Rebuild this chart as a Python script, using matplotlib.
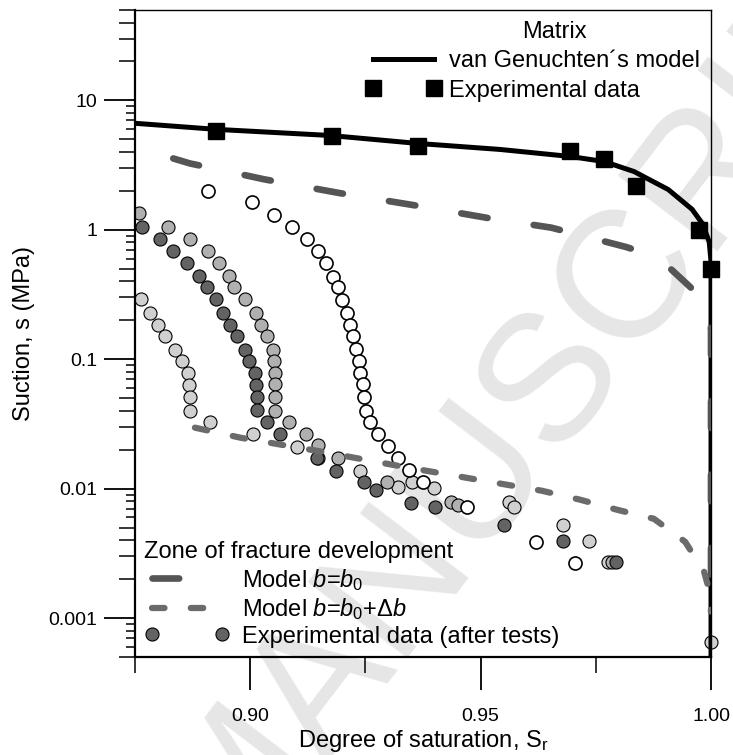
import numpy as np
import matplotlib
matplotlib.use("Agg")
import matplotlib.pyplot as plt
import matplotlib.ticker as ticker

plt.rcParams['font.family'] = ['Liberation Sans', 'DejaVu Sans']
plt.rcParams['mathtext.fontset'] = 'custom'
plt.rcParams['mathtext.rm'] = 'Liberation Sans'
plt.rcParams['mathtext.it'] = 'Liberation Sans:italic'

# -------------------------------
# Data
# -------------------------------

# matrix: van Genuchten fit
vg_sr = [0.8754, 0.8928, 0.9173, 0.9364, 0.9542, 0.9694, 0.9768, 0.9833, 0.9907, 0.9959, 0.9981, 0.9996, 1.0, 1.0]
vg_s = [6.64, 5.97, 5.36, 4.65, 4.18, 3.69, 3.37, 2.82, 2.05, 1.44, 1.12, 0.81, 0.57, 0.0005]

# matrix: experimental points
mat_sr = [0.8926, 0.9178, 0.9364, 0.9694, 0.9768, 0.9837, 0.9974, 1.0]
mat_s = [5.76, 5.27, 4.41, 4.03, 3.50, 2.20, 0.99, 0.50]

# model b = b0
b0_sr = [0.8833, 0.8869, 0.9032, 0.9195, 0.9360, 0.9524, 0.9653, 0.9816, 0.9885, 0.9954, 0.9976, 0.9995, 1.0, 1.0]
b0_s = [3.56, 3.26, 2.45, 1.92, 1.54, 1.22, 1.04, 0.736, 0.614, 0.364, 0.305, 0.233, 0.169, 0.00112]

# model b = b0 + db
db_sr = [0.8880, 0.8980, 0.9145, 0.9308, 0.9471, 0.9633, 0.9716, 0.9796, 0.9876, 0.9944, 0.9985, 0.9996, 1.0]
db_s = [0.0296, 0.0247, 0.0196, 0.0153, 0.0121, 0.00963, 0.00821, 0.00687, 0.00585, 0.00388, 0.00228, 0.00165, 0.00112]

# experimental data after tests (grouped by marker shade)
white_sr = [0.8909, 0.9004, 0.9052, 0.9091, 0.9124, 0.9148, 0.9165, 0.9180, 0.9191, 0.9200,
            0.9211, 0.9217, 0.9222, 0.9230, 0.9235, 0.9239, 0.9244, 0.9246, 0.9252, 0.9261,
            0.9278, 0.9298, 0.9320, 0.9344, 0.9374, 0.9470, 0.9620, 0.9704]
white_s = [1.98, 1.63, 1.31, 1.06, 0.856, 0.692, 0.559, 0.435, 0.364, 0.289,
           0.229, 0.185, 0.152, 0.119, 0.0975, 0.0787, 0.0648, 0.0514, 0.0400, 0.0329,
           0.0266, 0.0215, 0.0173, 0.0140, 0.0113, 0.00725, 0.00388, 0.00267]

dark_sr = [0.8765, 0.8804, 0.8833, 0.8863, 0.8889, 0.8907, 0.8926, 0.8941, 0.8957, 0.8972,
           0.8989, 0.8998, 0.9011, 0.9013, 0.9015, 0.9015, 0.9037, 0.9065, 0.9146, 0.9187,
           0.9246, 0.9272, 0.9348, 0.9402, 0.9550, 0.9678, 0.9794]
dark_s = [1.06, 0.856, 0.692, 0.559, 0.443, 0.364, 0.294, 0.229, 0.185, 0.150,
          0.117, 0.0975, 0.0787, 0.0636, 0.0514, 0.0408, 0.0329, 0.0266, 0.0173, 0.0138,
          0.0113, 0.0098, 0.00778, 0.00725, 0.00526, 0.00395, 0.00272]

mid_sr = [0.8759, 0.8822, 0.8870, 0.8909, 0.8933, 0.8954, 0.8965, 0.8989, 0.9013, 0.9024,
          0.9037, 0.9050, 0.9052, 0.9054, 0.9054, 0.9054, 0.9054, 0.9085, 0.9120, 0.9148,
          0.9191, 0.9296, 0.9435, 0.9452, 0.9785]
mid_s = [1.34, 1.06, 0.856, 0.692, 0.559, 0.443, 0.364, 0.294, 0.229, 0.185,
         0.150, 0.117, 0.0975, 0.0787, 0.0648, 0.0514, 0.0400, 0.0329, 0.0266, 0.0219,
         0.0173, 0.0113, 0.00792, 0.00751, 0.00272]

light_sr = [0.8763, 0.8783, 0.8800, 0.8815, 0.8837, 0.8852, 0.8865, 0.8867, 0.8870, 0.8870,
            0.8913, 0.9007, 0.9102, 0.9148, 0.9239, 0.9320, 0.9352, 0.9398, 0.9561, 0.9572,
            0.9678, 0.9735, 0.9776, 1.0]
light_s = [0.294, 0.229, 0.185, 0.150, 0.117, 0.0975, 0.0787, 0.0636, 0.0514, 0.0400,
           0.0329, 0.0266, 0.0211, 0.0173, 0.0138, 0.0103, 0.0113, 0.0102, 0.00792, 0.00725,
           0.00526, 0.00395, 0.00272, 0.00065]

# -------------------------------
# Figure
# -------------------------------

fig = plt.figure(figsize=(7.33, 7.55), dpi=100)
ax = fig.add_axes([0.1842, 0.1298, 0.7858, 0.8570])

# faint journal watermark behind the data
ax.text(0.755, 0.510, 'MANUSCRIPT', transform=fig.transFigure, rotation=52.7,
        fontsize=130, color='#e6e6e6', ha='center', va='center', zorder=0.5, clip_on=False)

mk = dict(ls='none', marker='o', ms=9.4, mec='k', zorder=2)
ax.plot(light_sr, light_s, mfc='#d0d0d0', mew=0.8, clip_on=False, **mk)
ax.plot(mid_sr, mid_s, mfc='#b0b0b0', mew=0.8, **mk)
dark_pts, = ax.plot(dark_sr, dark_s, mfc='#636363', mew=0.8, **mk)
ax.plot(white_sr, white_s, mfc='white', mew=1.2, **mk)

vg_line, = ax.plot(vg_sr, vg_s, color='k', lw=3.6, zorder=3)
b0_line, = ax.plot(b0_sr, b0_s, color='#555555', lw=4.8, dashes=(4.0, 7.0),
                   dash_capstyle='round', zorder=4)
db_line, = ax.plot(db_sr, db_s, color='#6b6b6b', lw=4.5, dashes=(2.0, 4.2),
                   dash_capstyle='round', zorder=4)
sq_pts, = ax.plot(mat_sr, mat_s, ls='none', marker='s', ms=11, color='k',
                  clip_on=False, zorder=5)

ax.set_yscale('log')
ax.set_xlim(0.875, 1.0)
ax.set_ylim(0.0005, 50)

ax.xaxis.set_major_locator(ticker.FixedLocator([0.90, 0.95, 1.00]))
ax.xaxis.set_minor_locator(ticker.FixedLocator([0.875, 0.925, 0.975]))
ax.xaxis.set_major_formatter(ticker.FormatStrFormatter('%.2f'))
ax.yaxis.set_major_locator(ticker.LogLocator(base=10, numticks=10))
ax.yaxis.set_minor_locator(ticker.LogLocator(base=10, subs=(2, 3, 4, 5), numticks=10))
ax.yaxis.set_major_formatter(ticker.FuncFormatter(lambda v, p: f'{v:g}'))
ax.yaxis.set_minor_formatter(ticker.NullFormatter())

ax.tick_params(which='major', direction='out', length=22, width=1.3, labelsize=14)
ax.tick_params(which='minor', direction='out', length=11.5, width=1.1)
ax.tick_params(axis='x', which='major', length=24, pad=13)
ax.tick_params(axis='y', which='major', pad=5)

# short minor ticks (6..9) on a second left axis
sec = ax.secondary_yaxis('left')
sec.yaxis.set_major_locator(ticker.LogLocator(base=10, subs=(6, 7, 8, 9), numticks=10))
sec.yaxis.set_minor_locator(ticker.NullLocator())
sec.tick_params(which='major', direction='out', length=6.5, width=1.1, labelleft=False)
sec.spines['left'].set_visible(False)

for side in ['left', 'bottom']:
    ax.spines[side].set_linewidth(1.6)
for side in ['top', 'right']:
    ax.spines[side].set_linewidth(1.0)

ax.set_xlabel('Degree of saturation, S$_\\mathrm{r}$', fontsize=17, labelpad=2)
ax.set_ylabel('Suction, s (MPa)', fontsize=17, labelpad=10)

leg1 = ax.legend([vg_line, sq_pts], ['van Genuchten\u00b4s model', 'Experimental data'],
                 title='Matrix', loc='upper right', bbox_to_anchor=(1.0, 1.0),
                 frameon=False, fontsize=17, title_fontsize=17, numpoints=2,
                 handlelength=3.2, handletextpad=0.35, labelspacing=0.32,
                 borderaxespad=0.15, borderpad=0.3)
leg1.get_title().set_position((21, 0))
ax.add_artist(leg1)

leg2 = ax.legend([b0_line, db_line, dark_pts],
                 ['Model $b$=$b_0$', 'Model $b$=$b_0$+\u0394$b$', 'Experimental data (after tests)'],
                 title='Zone of fracture development', loc='lower left',
                 frameon=False, fontsize=17, title_fontsize=17, numpoints=2,
                 handlelength=3.6, handletextpad=0.55, labelspacing=0.15,
                 borderaxespad=0.1, borderpad=0.3, alignment='left')

fig.savefig('out.png', dpi=100, facecolor='white')
